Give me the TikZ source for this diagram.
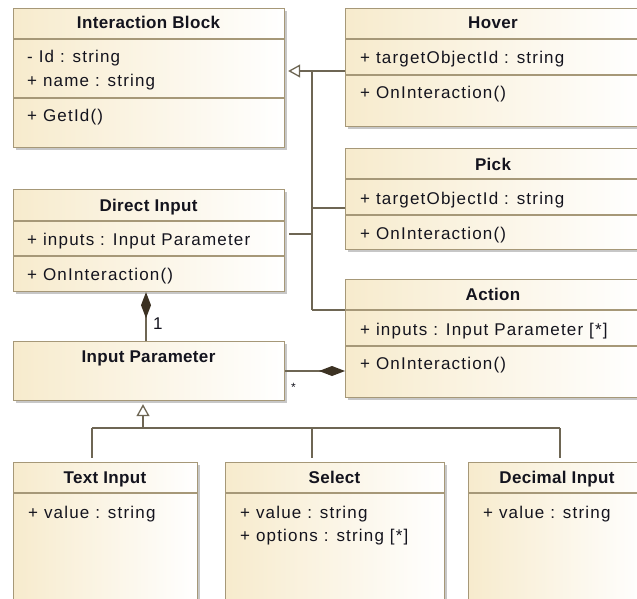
\documentclass[tikz,border=0pt]{standalone}
\usepackage{fontspec}
\setmainfont{Liberation Sans}
\newfontfamily\regf[LetterSpace=7]{Liberation Sans}
\newfontfamily\boldf[LetterSpace=2]{Liberation Sans}
\usetikzlibrary{arrows.meta,shadows}
\definecolor{boxbeige}{RGB}{247,235,205}
\definecolor{boxline}{RGB}{166,152,120}
\definecolor{connline}{RGB}{110,102,84}
\definecolor{diamondc}{RGB}{60,50,35}
\definecolor{txt}{RGB}{20,20,30}
\tikzset{
 cls/.style={rectangle, draw=boxline, line width=1.2pt, left color=boxbeige, right color=white, inner sep=0pt, anchor=north west,
   drop shadow={shadow xshift=2.5pt, shadow yshift=-2.5pt, fill=black, opacity=0.22}},
 sepline/.style={draw=boxline, line width=1.2pt},
 ttl/.style={font=\boldf\bfseries\fontsize{17}{20}\selectfont, text=txt, inner sep=0pt, anchor=base},
 attr/.style={font=\regf\fontsize{17}{20}\selectfont, text=txt, inner sep=0pt, anchor=base west},
 conn/.style={draw=connline, line width=1.3pt},
 gen/.style={conn, -{Triangle[open, length=12pt, width=13pt, fill=white]}, shorten >=3pt},
 comp/.style={conn, -{Diamond[length=26pt, width=10pt, fill=diamondc, color=diamondc]}},
 mult/.style={font=\regf\fontsize{17}{20}\selectfont, text=txt, inner sep=0pt, anchor=base west},
 star/.style={font=\regf\fontsize{12}{14}\selectfont, text=txt, inner sep=0pt, anchor=base west},
}
\begin{document}
\begin{tikzpicture}[x=1pt,y=-1pt]
\fill[white] (0,0) rectangle (637,599);
\useasboundingbox (0,0) rectangle (637,599);

% ---------- class boxes ----------
\node[cls, minimum width=271pt, minimum height=139pt] (ib) at (13,8) {};
\node[cls, minimum width=296pt, minimum height=118pt] (hv) at (345,8) {};
\node[cls, minimum width=296pt, minimum height=101pt] (pk) at (345,148) {};
\node[cls, minimum width=296pt, minimum height=118pt] (ac) at (345,279) {};
\node[cls, minimum width=271pt, minimum height=102pt] (di) at (13,189) {};
\node[cls, minimum width=271pt, minimum height=59pt] (ip) at (13,341) {};
\node[cls, minimum width=184pt, minimum height=170pt] (ti) at (13,462) {};
\node[cls, minimum width=219pt, minimum height=170pt] (se) at (225,462) {};
\node[cls, minimum width=178pt, minimum height=170pt] (de) at (468,462) {};

% ---------- separators ----------
\draw[sepline] (ib.west |- 0,39) -- (ib.east |- 0,39);
\draw[sepline] (ib.west |- 0,98) -- (ib.east |- 0,98);
\draw[sepline] (hv.west |- 0,39) -- (hv.east |- 0,39);
\draw[sepline] (hv.west |- 0,75) -- (hv.east |- 0,75);
\draw[sepline] (pk.west |- 0,179) -- (pk.east |- 0,179);
\draw[sepline] (pk.west |- 0,215) -- (pk.east |- 0,215);
\draw[sepline] (ac.west |- 0,310) -- (ac.east |- 0,310);
\draw[sepline] (ac.west |- 0,346) -- (ac.east |- 0,346);
\draw[sepline] (di.west |- 0,221) -- (di.east |- 0,221);
\draw[sepline] (di.west |- 0,256) -- (di.east |- 0,256);
\draw[sepline] (ti.west |- 0,493) -- (ti.east |- 0,493);
\draw[sepline] (se.west |- 0,493) -- (se.east |- 0,493);
\draw[sepline] (de.west |- 0,493) -- (de.east |- 0,493);

% ---------- texts ----------
\node[ttl] (ib-t) at (148.5,29) {Interaction Block};
\node[attr] (ib-a1) at (27,63) {- Id : string};
\node[attr] (ib-a2) at (27,87) {+ name : string};
\node[attr] (ib-m1) at (27,122) {+ GetId()};

\node[ttl] (hv-t) at (493,29) {Hover};
\node[attr] (hv-a1) at (360,64) {+ targetObjectId : string};
\node[attr] (hv-m1) at (360,99) {+ OnInteraction()};

\node[ttl] (pk-t) at (493,171) {Pick};
\node[attr] (pk-a1) at (360,204) {+ targetObjectId : string};
\node[attr] (pk-m1) at (360,239) {+ OnInteraction()};

\node[ttl] (ac-t) at (493,300) {Action};
\node[attr] (ac-a1) at (360,335) {+ inputs : Input Parameter [*]};
\node[attr] (ac-m1) at (360,369) {+ OnInteraction()};

\node[ttl] (di-t) at (148.5,211) {Direct Input};
\node[attr] (di-a1) at (27,245) {+ inputs : Input Parameter};
\node[attr] (di-m1) at (27,280) {+ OnInteraction()};

\node[ttl] (ip-t) at (148.5,362) {Input Parameter};

\node[ttl] (ti-t) at (105,483) {Text Input};
\node[attr] (ti-a1) at (28,518) {+ value : string};

\node[ttl] (se-t) at (334.5,483) {Select};
\node[attr] (se-a1) at (240,518) {+ value : string};
\node[attr] (se-a2) at (240,541) {+ options : string [*]};

\node[ttl] (de-t) at (557,483) {Decimal Input};
\node[attr] (de-a1) at (483,518) {+ value : string};

% ---------- generalization to Interaction Block ----------
\coordinate (hubT) at (312,71);
\coordinate (hubP) at (312,208);
\coordinate (hubD) at (312,234);
\coordinate (hubB) at (312,310);
\draw[conn] (hv.west |- hubT) -- (hubT);
\draw[gen] (hubT) -- (ib.east |- hubT);
\draw[conn] (hubT) -- (hubB);
\draw[conn] (pk.west |- hubP) -- (hubP);
\draw[conn, shorten <=4pt] (di.east |- hubD) -- (hubD);
\draw[conn] (ac.west |- hubB) -- (hubB);

% ---------- composition Direct Input <- Input Parameter ----------
\coordinate (c1) at (146,0);
\draw[comp] (ip.north -| c1) -- (di.south -| c1);
\node[mult] (m1) at (153,329) {1};

% ---------- composition Action <- Input Parameter ----------
\coordinate (c2) at (0,371);
\draw[comp] (ip.east |- c2) -- (ac.west |- c2);
\node[star] (m2) at (291,391) {*};

% ---------- generalization to Input Parameter ----------
\coordinate (gbar) at (143,428);
\coordinate (bL) at (92,428);
\coordinate (bM) at (312,428);
\coordinate (bR) at (560,428);
\draw[gen] (gbar) -- (ip.south -| gbar);
\draw[conn] (bL) -- (bR);
\draw[conn, shorten >=4pt] (bL) -- (ti.north -| bL);
\draw[conn, shorten >=4pt] (bM) -- (se.north -| bM);
\draw[conn, shorten >=4pt] (bR) -- (de.north -| bR);
\end{tikzpicture}
\end{document}
